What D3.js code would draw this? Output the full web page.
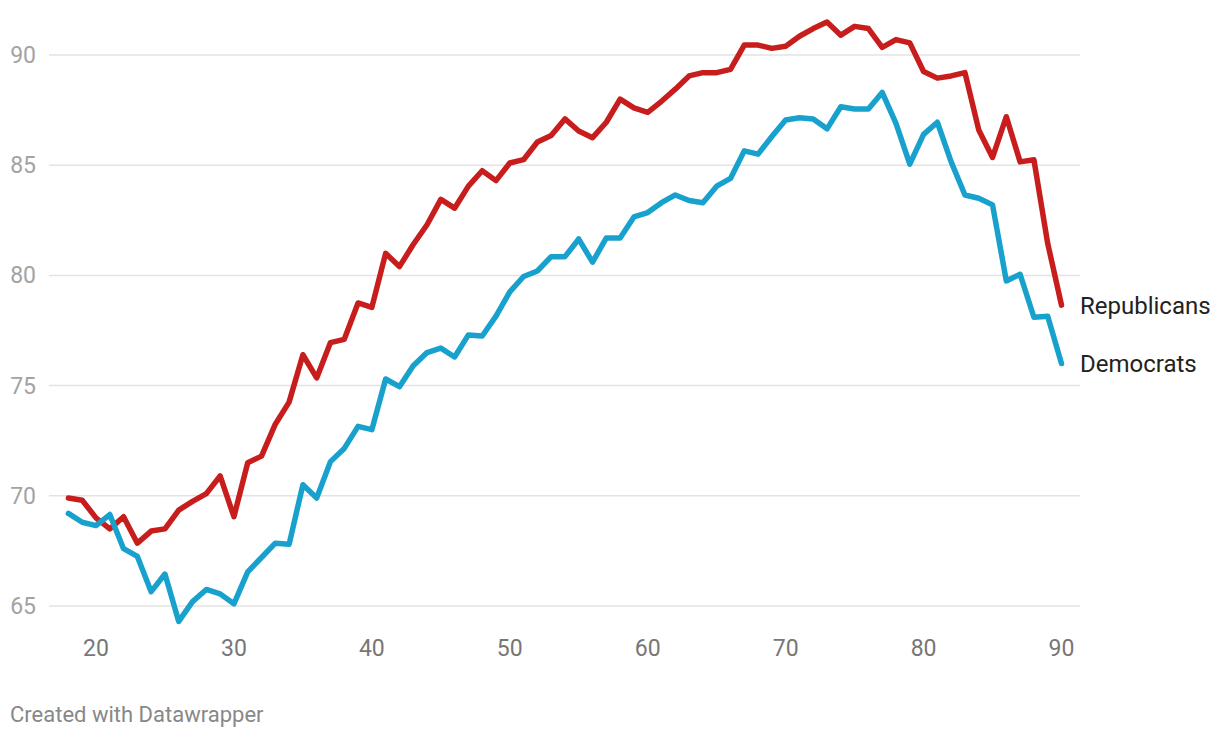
<!DOCTYPE html>
<html>
<head>
<meta charset="utf-8">
<script src="https://cdn.jsdelivr.net/npm/d3@7"></script>
<style>
  html, body { margin: 0; padding: 0; background: #fff; }
  svg { display: block; font-family: Roboto, "Noto Sans", sans-serif; }
</style>
</head>
<body>
<svg id="chart" width="1220" height="738"></svg>
<script>
const ages = d3.range(18, 91);
const republicans = [69.9,69.8,69.0,68.5,69.05,67.85,68.4,68.5,69.35,69.75,70.1,70.9,69.05,71.5,71.8,73.25,74.25,76.4,75.35,76.95,77.1,78.75,78.55,81.0,80.4,81.4,82.3,83.45,83.05,84.05,84.75,84.3,85.1,85.25,86.05,86.35,87.1,86.55,86.25,86.95,88.0,87.6,87.4,87.9,88.45,89.05,89.2,89.2,89.35,90.45,90.45,90.3,90.4,90.85,91.2,91.5,90.9,91.3,91.2,90.35,90.7,90.55,89.25,88.95,89.05,89.2,86.6,85.35,87.2,85.15,85.25,81.45,78.65];
const democrats = [69.2,68.8,68.65,69.15,67.6,67.25,65.65,66.45,64.3,65.2,65.75,65.55,65.1,66.55,67.2,67.85,67.8,70.5,69.9,71.55,72.15,73.15,73.0,75.3,74.95,75.9,76.5,76.7,76.3,77.3,77.25,78.15,79.25,79.95,80.2,80.85,80.85,81.65,80.6,81.7,81.7,82.65,82.85,83.3,83.65,83.4,83.3,84.05,84.4,85.65,85.5,86.3,87.05,87.15,87.1,86.65,87.65,87.55,87.55,88.3,86.9,85.05,86.4,86.95,85.15,83.65,83.5,83.2,79.75,80.05,78.1,78.15,76.0];
const yTicks = [65, 70, 75, 80, 85, 90];
const xTicks = [20, 30, 40, 50, 60, 70, 80, 90];
const seriesNames = ["Republicans", "Democrats"];
const seriesColors = ["#c71e1d", "#18a1cd"];

const svg = d3.select("#chart");
const x = d3.scaleLinear().domain([18, 90]).range([68.4, 1061.5]);
const y = d3.scaleLinear().domain([65, 90]).range([606, 55]);
const gridLeft = 49, gridRight = 1080;

// gridlines
svg.append("g").selectAll("line").data(yTicks).join("line")
  .attr("x1", gridLeft).attr("x2", gridRight)
  .attr("y1", d => y(d)).attr("y2", d => y(d))
  .attr("stroke", "#e3e3e3").attr("stroke-width", 1.5);

// y labels
svg.append("g").selectAll("text").data(yTicks).join("text")
  .attr("x", 36).attr("y", d => y(d)).attr("dy", "0.35em")
  .attr("text-anchor", "end").attr("fill", "#a3a3a3")
  .attr("font-size", 23).text(d => d);

// x labels
svg.append("g").selectAll("text").data(xTicks).join("text")
  .attr("x", d => x(d)).attr("y", 656)
  .attr("text-anchor", "middle").attr("fill", "#777")
  .attr("font-size", 23).text(d => d);

const line = d3.line().x((d, i) => x(ages[i])).y(d => y(d));
const data = [republicans, democrats];
data.forEach((vals, k) => {
  svg.append("path").datum(vals)
    .attr("d", line).attr("fill", "none")
    .attr("stroke", seriesColors[k]).attr("stroke-width", 5.5)
    .attr("stroke-linejoin", "round").attr("stroke-linecap", "round");
  svg.append("text")
    .attr("x", 1080).attr("y", y(vals[vals.length - 1])).attr("dy", "0.35em")
    .attr("fill", "#222").attr("font-size", 24)
    .text(seriesNames[k]);
});

svg.append("text").attr("x", 10).attr("y", 722)
  .attr("fill", "#888").attr("font-size", 22)
  .text("Created with Datawrapper");
</script>
</body>
</html>
